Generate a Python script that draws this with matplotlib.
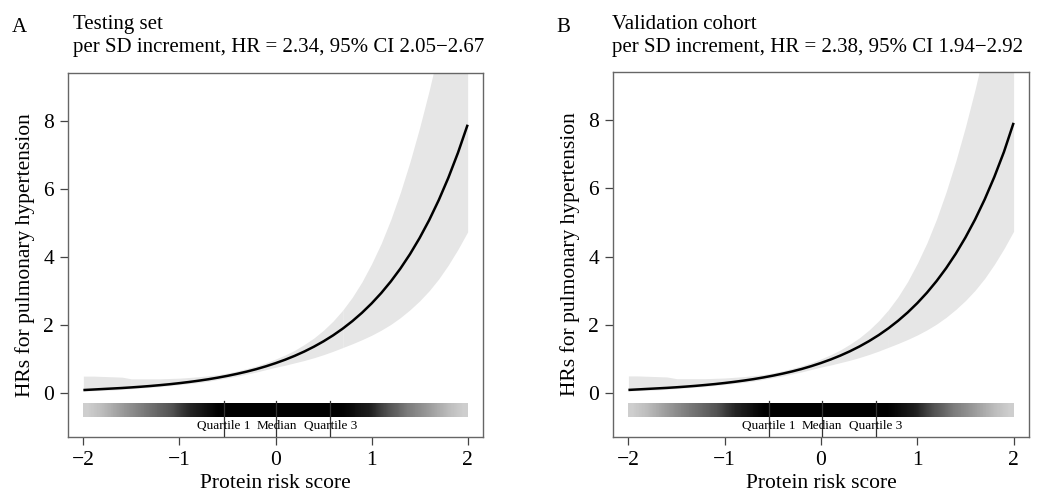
import matplotlib
matplotlib.use("Agg")
import matplotlib.pyplot as plt
import numpy as np

plt.rcParams['font.family'] = ['Liberation Serif', 'DejaVu Serif']

# risk score grid, read every 0.1
score = np.round(np.arange(-2, 2.001, 0.1), 2)

# Testing set: HR curve and 95% CI band
hr_test = [0.09, 0.105, 0.12, 0.135, 0.15, 0.168, 0.188, 0.21, 0.235, 0.262,
           0.293, 0.327, 0.365, 0.407, 0.455, 0.508, 0.567, 0.632, 0.705, 0.788,
           0.88, 0.982, 1.096, 1.223, 1.365, 1.523, 1.699, 1.896, 2.116, 2.361,
           2.635, 2.94, 3.281, 3.661, 4.085, 4.559, 5.087, 5.677, 6.335, 7.069,
           7.89]
hi_test = [0.50, 0.50, 0.49, 0.48, 0.47, 0.42, 0.42, 0.42, 0.42, 0.43,
           0.44, 0.46, 0.48, 0.51, 0.54, 0.59, 0.65, 0.72, 0.80, 0.89,
           1.00, 1.12, 1.26, 1.43, 1.62, 1.85, 2.12, 2.44, 2.82, 3.27,
           3.80, 4.40, 5.10, 5.90, 6.80, 7.80, 8.90, 10.1, 11.5, 13.0,
           14.8]
lo_test = [0.06, 0.07, 0.08, 0.09, 0.11, 0.13, 0.15, 0.17, 0.19, 0.22,
           0.25, 0.28, 0.31, 0.35, 0.40, 0.45, 0.50, 0.56, 0.62, 0.69,
           0.76, 0.82, 0.89, 0.96, 1.04, 1.13, 1.23, 1.34, 1.45, 1.57,
           1.70, 1.85, 2.02, 2.22, 2.45, 2.71, 3.01, 3.36, 3.77, 4.23,
           4.74]

# Validation cohort: reads the same as the testing set within pixel accuracy
hr_valid = hr_test[:-1] + [7.92]
hi_valid = list(hi_test)
lo_valid = list(lo_test)

# band is drawn in pieces (faint seams at these scores in the original)
band_breaks = [-1.5, 0.7]

# rug darkness along the score (0 = white, 1 = black), every 0.1
rug_x = np.round(np.arange(-2, 2.001, 0.1), 2)
rug_dark = [0.30, 0.35, 0.40, 0.45, 0.50, 0.55, 0.60, 0.65, 0.70, 0.75,
            0.82, 0.88, 0.92, 0.96, 1.00, 1.00, 1.00, 1.00, 1.00, 1.00,
            1.00, 1.00, 1.00, 1.00, 1.00, 1.00, 1.00, 1.00, 0.97, 0.93,
            0.90, 0.82, 0.75, 0.68, 0.60, 0.55, 0.50, 0.45, 0.40, 0.35,
            0.30]

quartiles = [-0.54, 0.01, 0.57]
quartile_names = ["Quartile 1", "Median", "Quartile 3"]

panels = [
    ("A", "Testing set", "per SD increment, HR = 2.34, 95% CI 2.05\u22122.67",
     hr_test, lo_test, hi_test),
    ("B", "Validation cohort", "per SD increment, HR = 2.38, 95% CI 1.94\u22122.92",
     hr_valid, lo_valid, hi_valid),
]

fig = plt.figure(figsize=(10.38, 4.98), dpi=100)
W, H = 1038, 498
boxes = [(68, 73, 483, 437), (613, 72, 1029, 437)]
letter_x = [12, 556]
title_x = [73, 612]

for i, (letter, t1, t2, hr, lo, hi) in enumerate(panels):
    x0, y0, x1, y1 = boxes[i]
    ax = fig.add_axes([x0 / W, 1 - y1 / H, (x1 - x0) / W, (y1 - y0) / H])

    lo = np.array(lo)
    hi = np.array(hi)
    edges = [score[0]] + band_breaks + [score[-1]]
    for a, b in zip(edges[:-1], edges[1:]):
        m = (score >= a - 1e-9) & (score <= b + 1e-9)
        ax.fill_between(score[m], lo[m], hi[m], color='#e6e6e6',
                        linewidth=0)
    ax.plot(score, hr, color='black', linewidth=1.8, solid_capstyle='butt')

    # rug of observed scores
    ax.imshow(np.array(rug_dark)[None, :], cmap='Greys', vmin=0, vmax=1,
              aspect='auto', interpolation='bilinear',
              extent=(rug_x[0], rug_x[-1], -0.71, -0.32), zorder=3)

    for q in quartiles:
        ax.plot([q, q], [-0.24, -1.29], color='#333333', linewidth=0.9,
                zorder=4)
    for q, name in zip(quartiles, quartile_names):
        ax.text(q, -0.98, name, ha='center', va='center', fontsize=9.5,
                zorder=5)

    ax.set_xlim(-2.16, 2.16)
    ax.set_ylim(-1.29, 9.41)
    ax.set_xticks([-2, -1, 0, 1, 2])
    ax.set_yticks([0, 2, 4, 6, 8])
    ax.tick_params(direction='out', length=6, width=0.9, color='#444444',
                   labelsize=15.5, pad=4)
    for sp in ax.spines.values():
        sp.set_color('#666666')
        sp.set_linewidth(1.0)
    ax.set_xlabel("Protein risk score", fontsize=15.5, labelpad=3)
    ax.set_ylabel("HRs for pulmonary hypertension", fontsize=15.5, labelpad=6)

    fig.text(letter_x[i] / W, 1 - 32 / H, letter, fontsize=15, va='baseline')
    fig.text(title_x[i] / W, 1 - 29 / H, t1, fontsize=15, va='baseline')
    fig.text(title_x[i] / W, 1 - 52 / H, t2, fontsize=15, va='baseline')

fig.savefig("out.png", dpi=100)
